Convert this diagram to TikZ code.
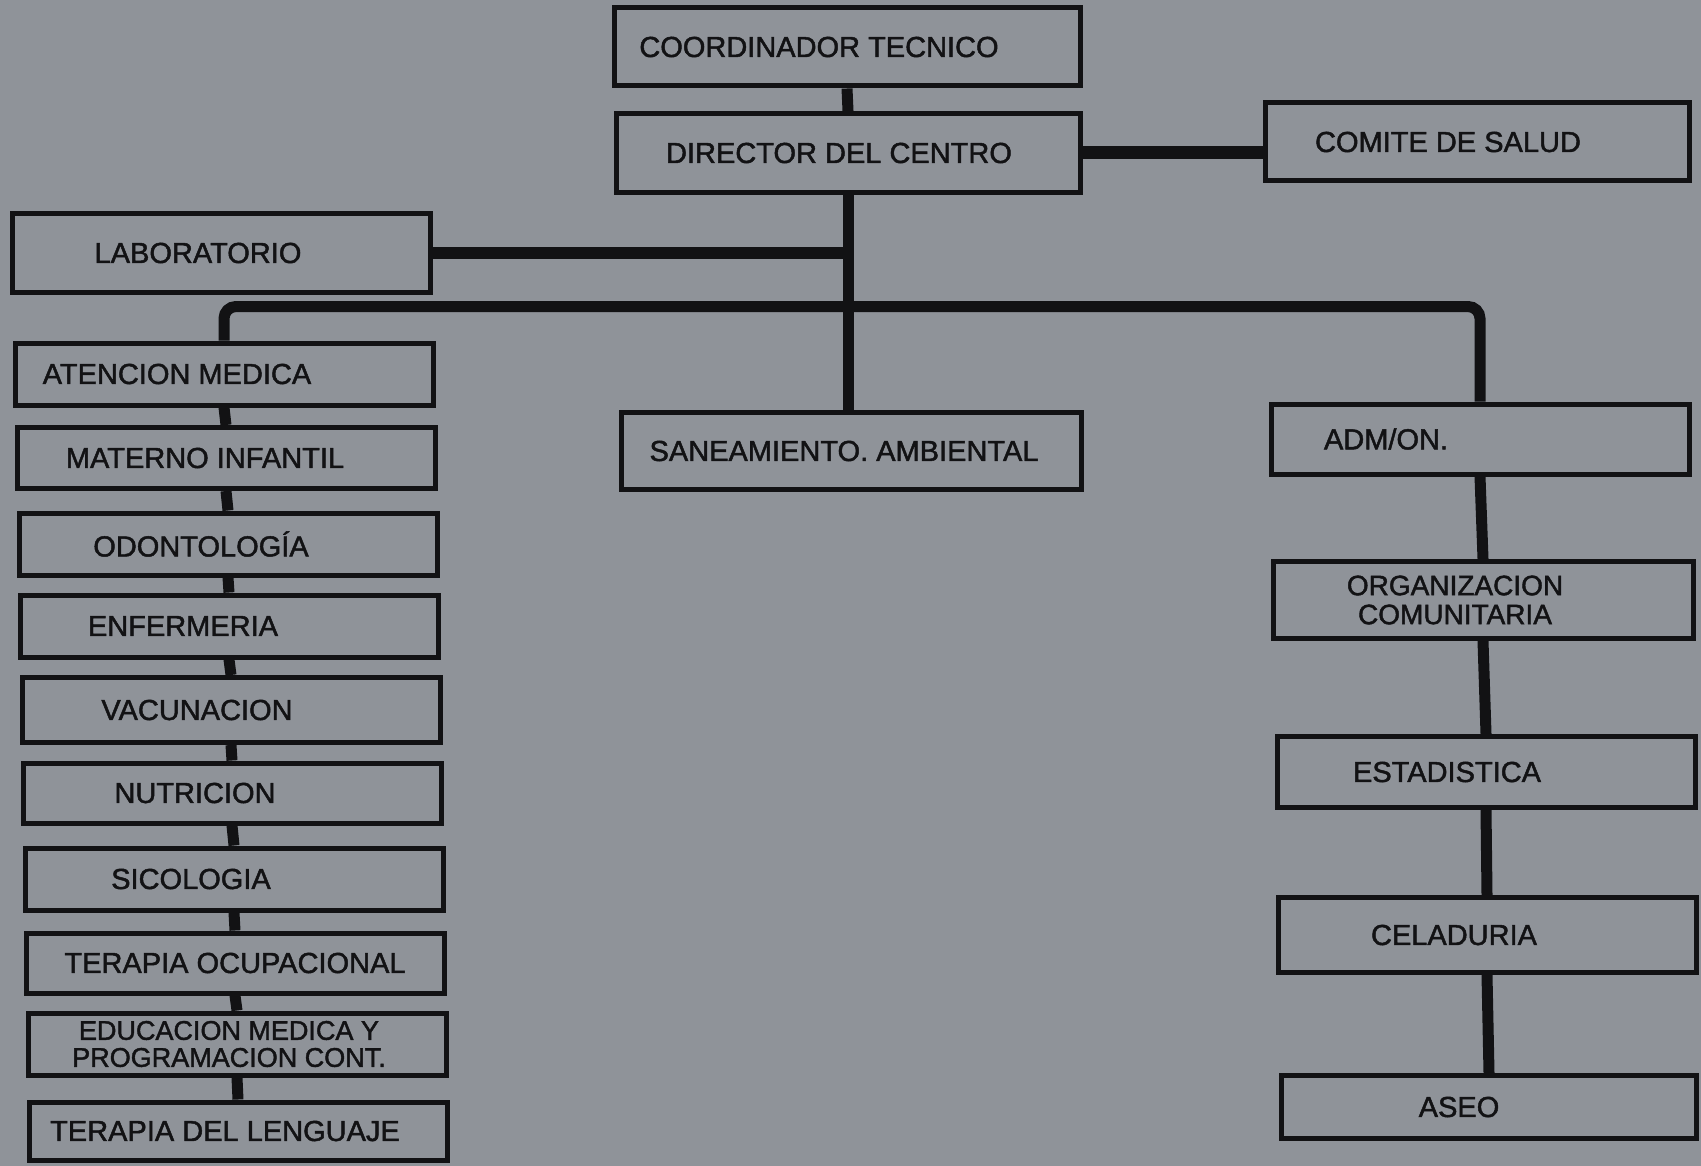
\documentclass[tikz,border=0pt]{standalone}
\usepackage{fontspec}
\setmainfont{Liberation Sans}[RawFeature={embolden=1.6}]
\usepackage{tikz}
\usetikzlibrary{positioning,calc}

\definecolor{bggray}{RGB}{143,147,153}
\definecolor{ink}{RGB}{18,18,20}
% trailing pad: pushes a label left inside its box
\newcommand{\lpad}[1]{\hspace*{#1pt}}

\begin{document}
\begin{tikzpicture}[
  x=0.5pt, y=-0.5pt,
  box/.style={draw=ink, line width=2.5pt, minimum width=209pt, minimum height=31pt, inner sep=0pt, text=ink, font=\fontsize{14.5}{15}\selectfont},
  wide/.style={box, minimum width=232pt, minimum height=39pt},
  two/.style={box, align=center},
  conn/.style={draw=ink, line width=5.5pt},
  heavy/.style={conn, line width=6.5pt}
]
\fill[bggray] (0,0) rectangle (1701,1166);
\useasboundingbox (0,0) rectangle (1701,1166);

% top of the chart
\node[wide, minimum width=233pt] (coord) at (847,47) {COORDINADOR TECNICO\lpad{28}};
\node[wide, minimum height=39.5pt] (dir) at (848,153) {DIRECTOR DEL CENTRO\lpad{9}};
\node[box, minimum width=212pt, minimum height=39pt] (comite) at (1477,142) {COMITE DE SALUD\lpad{29}};
\node[wide, minimum width=230pt, minimum height=38.5pt] (sane) at (851,451) {SANEAMIENTO. AMBIENTAL\lpad{7}};
\node[box, minimum height=39pt] (lab) at (221,253) {LABORATORIO\lpad{23}};

% left column
\node[box] (aten) at (224,374) {ATENCION MEDICA\lpad{47}};
\node[box, minimum height=30.5pt] (mat) at (226,458) {MATERNO INFANTIL\lpad{21}};
\node[box] (odo) at (228,544) {ODONTOLOGÍA\lpad{27}};
\node[box] (enf) at (229,626) {ENFERMERIA\lpad{46}};
\node[box, minimum height=32.5pt] (vac) at (231,710) {VACUNACION\lpad{34}};
\node[box, minimum height=30pt] (nut) at (232,793) {NUTRICION\lpad{37}};
\node[box] (sic) at (234,879) {SICOLOGIA\lpad{43}};
\node[box, minimum height=30pt] (toc) at (235,963) {TERAPIA OCUPACIONAL};
\node[two, font=\fontsize{13.5}{13.5}\selectfont] (edu) at (237,1044) {EDUCACION MEDICA Y\lpad{8}\\PROGRAMACION CONT.\lpad{8}};
\node[box, minimum height=29pt] (tle) at (238,1131) {TERAPIA DEL LENGUAJE\lpad{13}};

% right column
\node[box, minimum height=35pt] (adm) at (1480,439) {ADM/ON.\lpad{94}};
\node[two, minimum width=210pt, minimum height=38.5pt, font=\fontsize{14}{14.5}\selectfont] (org) at (1483,600) {ORGANIZACION\lpad{28}\\COMUNITARIA\lpad{28}};
\node[box, minimum height=35.5pt] (est) at (1486,772) {ESTADISTICA\lpad{39}};
\node[box, minimum height=37.5pt] (cel) at (1487,935) {CELADURIA\lpad{33}};
\node[box, minimum width=207.5pt, minimum height=31.5pt] (aseo) at (1489,1107) {ASEO\lpad{30}};

% links
\draw[conn] (coord.south) -- (dir.north);
\draw[heavy] (dir.east) -- (dir.east -| comite.west);
\draw[conn] (dir.south) -- (dir.south |- sane.north);
\draw[conn] (lab.east) -- (lab.east -| dir.south);
\draw[conn, rounded corners=6pt] (aten.north) -- ++(0,-34) -| (adm.north);
\foreach \a/\b in {aten/mat, mat/odo, odo/enf, enf/vac, vac/nut, nut/sic, sic/toc, toc/edu, edu/tle}
  \draw[conn] (\a.south) -- (\b.north);
\foreach \a/\b in {adm/org, org/est, est/cel, cel/aseo}
  \draw[conn] (\a.south) -- (\b.north);

\end{tikzpicture}
\end{document}
